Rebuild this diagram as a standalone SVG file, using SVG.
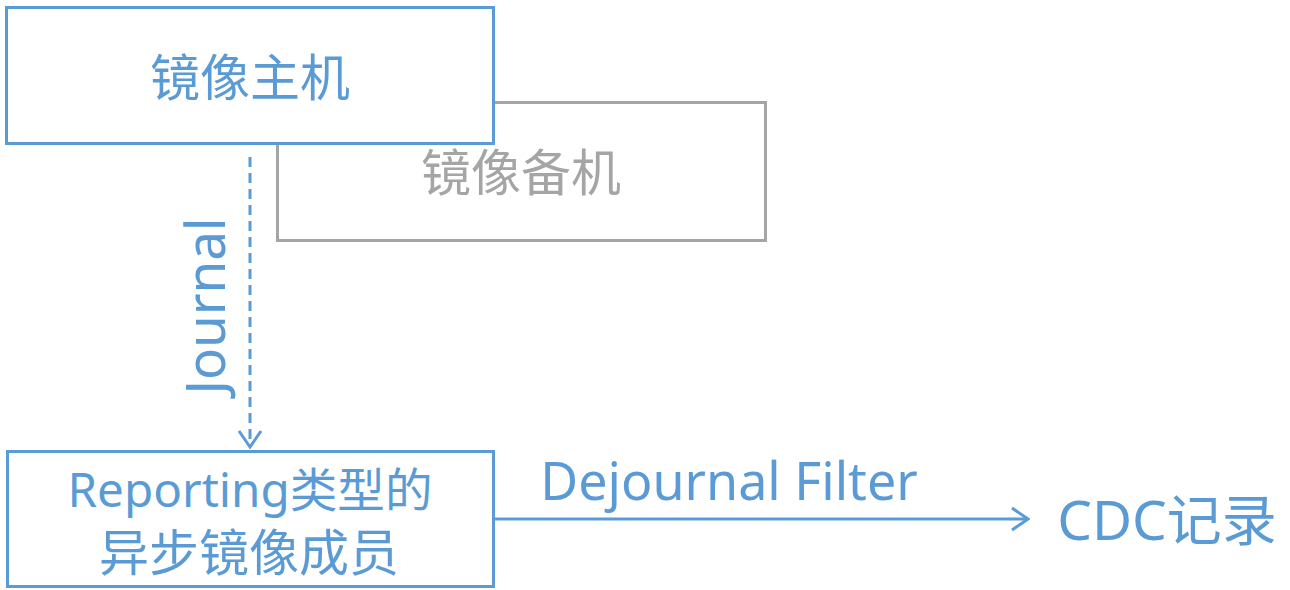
<svg xmlns="http://www.w3.org/2000/svg" width="1290" height="590" viewBox="0 0 1290 590">
<style>
.box{fill:#fff;stroke-width:3}
.blue{stroke:#5B9BD5}
.gray{stroke:#A5A5A5}
.t{font-family:"Noto Sans","Noto Sans CJK SC",sans-serif;text-anchor:middle}
.tb{fill:#5B9BD5}
.tg{fill:#A5A5A5}
.conn{fill:none;stroke:#5B9BD5;stroke-width:3}
</style>
<defs>
<marker id="arr" viewBox="0 0 20 26" refX="18" refY="13" markerWidth="20" markerHeight="26" markerUnits="userSpaceOnUse" orient="auto">
<path d="M2 2 L18 13 L2 24" fill="none" stroke="#5B9BD5" stroke-width="3"/>
</marker>
</defs>
<g id="node-backup">
<rect class="box gray" x="277.5" y="102.5" width="488" height="138"/>
<text class="t tg" x="521" y="191" font-size="50">镜像备机</text>
</g>
<g id="node-primary">
<rect class="box blue" x="6.5" y="7.5" width="487" height="136"/>
<text class="t tb" x="250" y="96" font-size="50">镜像主机</text>
</g>
<g id="node-async">
<rect class="box blue" x="7.5" y="451.5" width="486" height="135"/>
<text class="t tb" x="250" y="507" font-size="47" textLength="365" lengthAdjust="spacingAndGlyphs">Reporting类型的</text>
<text class="t tb" x="249" y="571" font-size="50">异步镜像成员</text>
</g>
<g id="node-cdc">
<text class="t tb" x="1167" y="540" font-size="55">CDC记录</text>
</g>
<g id="connectors">
<line class="conn" x1="250" y1="157" x2="250" y2="447" stroke-dasharray="10 6" marker-end="url(#arr)"/>
<text class="t tb" font-size="54" transform="translate(225 306) rotate(-90)" textLength="177" lengthAdjust="spacingAndGlyphs">Journal</text>
<line class="conn" x1="494" y1="519" x2="1028" y2="519" marker-end="url(#arr)"/>
<text class="t tb" x="729" y="500" font-size="52">Dejournal Filter</text>
</g>
</svg>
